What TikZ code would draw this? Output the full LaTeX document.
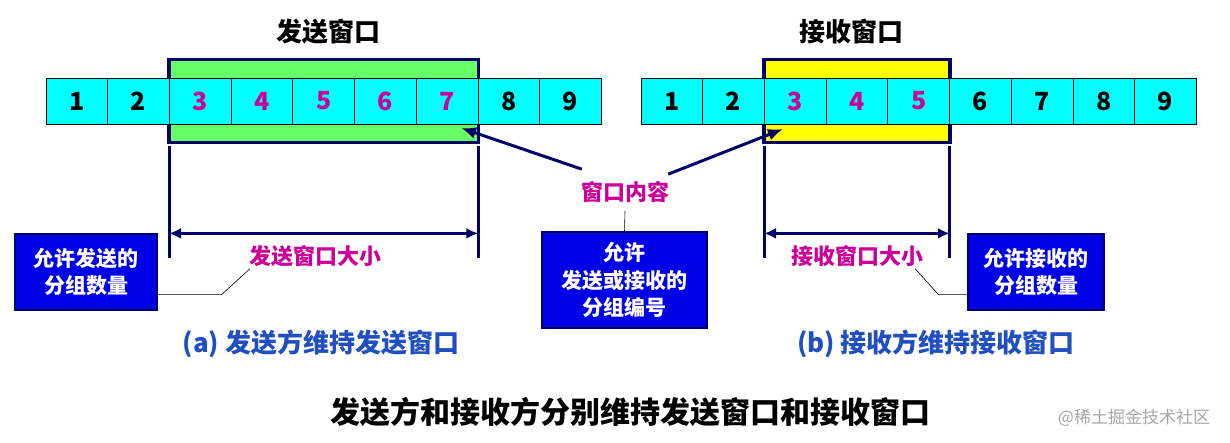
\documentclass[tikz,border=0pt]{standalone}
\usepackage{fontspec}
\setmainfont{Noto Sans CJK SC}
\usetikzlibrary{arrows.meta,backgrounds}

\definecolor{navy}{HTML}{000066}
\definecolor{cellcyan}{HTML}{00FFFF}
\definecolor{wingreen}{HTML}{66FF66}
\definecolor{winyellow}{HTML}{FFFF00}
\definecolor{boxblue}{HTML}{0000E6}
\definecolor{labelmag}{HTML}{CC0099}
\definecolor{subblue}{HTML}{1F4FC0}

\tikzset{
  cell/.style={draw=black, line width=0.8pt, fill=cellcyan, minimum width=61.7pt,
    minimum height=46pt, inner sep=0pt, font=\fontsize{25}{25}\selectfont\bfseries},
  winframe/.style={draw=navy, line width=3.5pt},
  bound/.style={draw=navy, line width=3pt},
  dim/.style={draw=navy, line width=3pt, {Latex[length=12pt,width=11pt]}-{Latex[length=12pt,width=11pt]}},
  pointer/.style={draw=navy, line width=3pt, -{Latex[length=15pt,width=12pt]}},
  lead/.style={draw=black, line width=0.6pt},
  infobox/.style={draw=navy, line width=1.2pt, fill=boxblue, text=white, align=center,
    inner sep=0pt, font=\fontsize{21}{27.5}\selectfont\bfseries},
  sizelabel/.style={text=labelmag, inner sep=2pt, font=\fontsize{22}{22}\selectfont\bfseries},
  wintitle/.style={font=\fontsize{26}{26}\selectfont\bfseries},
  subtitle/.style={text=subblue, font=\fontsize{26}{26}\selectfont\bfseries},
}

\begin{document}
\begin{tikzpicture}[x=1pt,y=-1pt]
  \useasboundingbox (0,0) rectangle (1230,443);

  % sender strip
  \foreach \i/\c in {1/black,2/black,3/labelmag,4/labelmag,5/labelmag,6/labelmag,7/labelmag,8/black,9/black} {
    \node[cell, text=\c] (s\i) at (46+61.7*\i-30.85,101) {\i};
  }
  % receiver strip
  \foreach \i/\c in {1/black,2/black,3/labelmag,4/labelmag,5/labelmag,6/black,7/black,8/black,9/black} {
    \node[cell, text=\c] (r\i) at (641+61.7*\i-30.85,101) {\i};
  }

  % window frames behind the cells
  \begin{scope}[on background layer]
    \draw[winframe, fill=wingreen] ([yshift=18pt]s3.north west) rectangle ([yshift=-18pt]s7.south east);
    \draw[winframe, fill=winyellow] ([yshift=18pt]r3.north west) rectangle ([yshift=-18pt]r5.south east);
  \end{scope}

  \node[wintitle] (stitle) at (328,32) {发送窗口};
  \node[wintitle] (rtitle) at (851,32) {接收窗口};

  % window size marks
  \draw[bound] ([yshift=-22pt]s3.south west) -- ([yshift=-134pt]s3.south west);
  \draw[bound] ([yshift=-22pt]s7.south east) -- ([yshift=-134pt]s7.south east);
  \draw[bound] ([yshift=-22pt]r3.south west) -- ([yshift=-134pt]r3.south west);
  \draw[bound] ([yshift=-22pt]r5.south east) -- ([yshift=-134pt]r5.south east);
  \coordinate (sl) at ([yshift=-109pt]s3.south west);
  \coordinate (sr) at ([yshift=-109pt]s7.south east);
  \coordinate (rl) at ([yshift=-109pt]r3.south west);
  \coordinate (rr) at ([yshift=-109pt]r5.south east);
  \draw[dim] (sl) -- (sr);
  \draw[dim] (rl) -- (rr);

  \node[sizelabel] (ssize) at (315,256) {发送窗口大小};
  \node[sizelabel] (rsize) at (857,256) {接收窗口大小};

  % info boxes
  \node[infobox, minimum width=142pt, minimum height=76pt] (sbox) at (86,272) {允许发送的\\分组数量};
  \node[infobox, minimum width=165pt, minimum height=96pt] (ibox) at (624.5,280) {允许\\发送或接收的\\分组编号};
  \node[infobox, minimum width=136pt, minimum height=76pt] (rbox) at (1036,272) {允许接收的\\分组数量};

  \draw[lead] ([yshift=16pt]sbox.south east) -- ++(64,0) -- ([xshift=3pt]ssize.south west);
  \draw[lead] ([yshift=16pt]rbox.south west) -- ++(-29,0) -- ([xshift=-10pt]rsize.south east);

  % window contents
  \node[sizelabel] (content) at (625,192) {窗口内容};
  \coordinate (sptr) at (461,128);
  \coordinate (rptr) at (783,129);
  \draw[pointer] ([shift={(3,-10)}]content.north west) -- (sptr);
  \draw[pointer] ([shift={(-3,-5)}]content.north east) -- (rptr);
  \draw[lead] ([yshift=-6pt]content.south) -- (ibox.north);

  \node[subtitle] (scap) at (321,344) {(a) 发送方维持发送窗口};
  \node[subtitle] (rcap) at (936,344) {(b) 接收方维持接收窗口};
  \node[font=\fontsize{30}{30}\selectfont\bfseries] (caption) at (630,412) {发送方和接收方分别维持发送窗口和接收窗口};
  \node[text=black!35, font=\fontsize{17}{17}\selectfont] (mark) at (1134,418) {@稀土掘金技术社区};
\end{tikzpicture}
\end{document}
